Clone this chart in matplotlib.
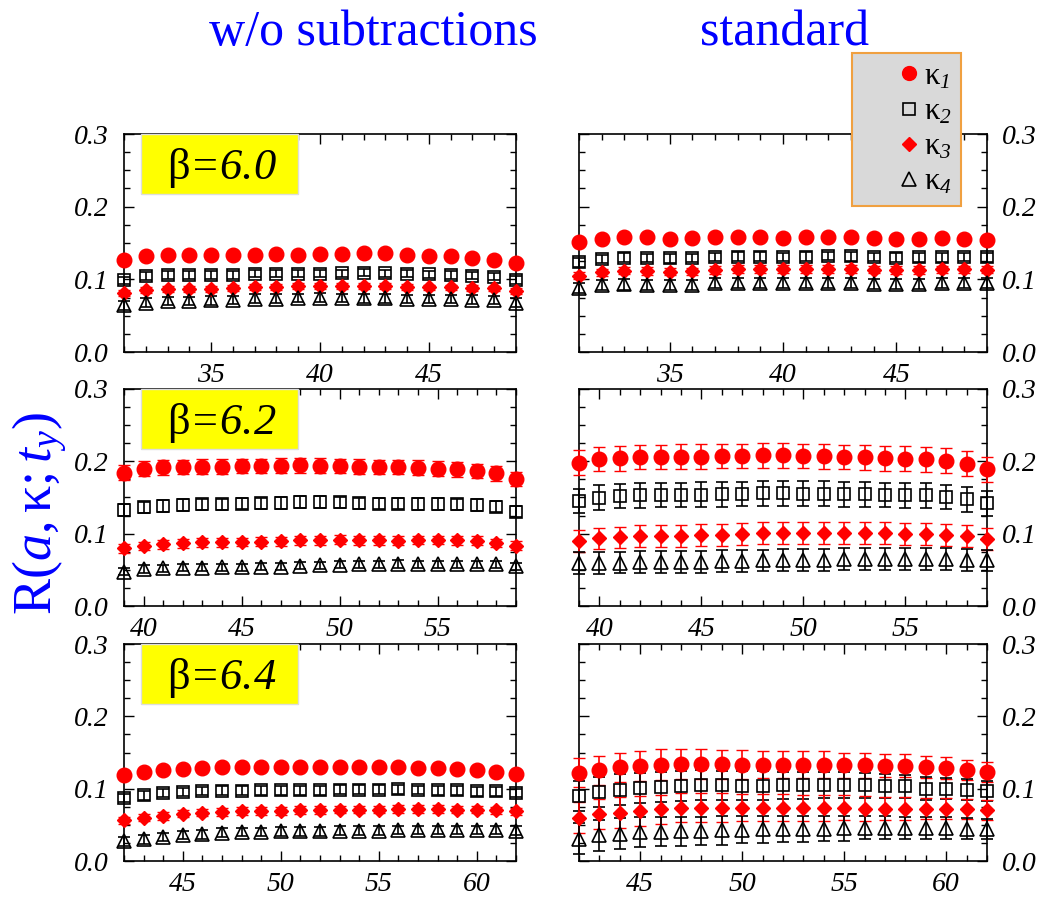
import matplotlib
matplotlib.use('Agg')
import matplotlib.pyplot as plt
from matplotlib.ticker import MultipleLocator, FormatStrFormatter
from matplotlib.patches import Rectangle
from matplotlib.lines import Line2D

plt.rcParams['font.family'] = ['Liberation Serif', 'DejaVu Serif']
plt.rcParams['font.style'] = 'italic'
plt.rcParams['mathtext.fontset'] = 'custom'
plt.rcParams['mathtext.rm'] = 'Liberation Serif:style=normal'
plt.rcParams['mathtext.it'] = 'Liberation Serif:style=italic'
plt.rcParams['mathtext.cal'] = 'Liberation Serif:style=italic'
plt.rcParams['mathtext.bf'] = 'Liberation Serif:style=normal:weight=bold'
plt.rcParams['mathtext.default'] = 'rm'

# ---------------- data ----------------
t_60 = [31, 32, 33, 34, 35, 36, 37, 38, 39, 40, 41, 42, 43, 44, 45, 46, 47, 48, 49]
t_62 = [39, 40, 41, 42, 43, 44, 45, 46, 47, 48, 49, 50, 51, 52, 53, 54, 55, 56, 57, 58, 59]
t_64 = [42, 43, 44, 45, 46, 47, 48, 49, 50, 51, 52, 53, 54, 55, 56, 57, 58, 59, 60, 61, 62]

# beta = 6.0, w/o subtractions
b60_nosub_k1 = [0.126, 0.132, 0.134, 0.134, 0.1335, 0.1335, 0.134, 0.135, 0.134, 0.135, 0.135, 0.136, 0.136, 0.134, 0.1325, 0.132, 0.130, 0.127, 0.122]
b60_nosub_k2 = [0.0985, 0.1045, 0.106, 0.106, 0.106, 0.106, 0.1077, 0.1077, 0.108, 0.108, 0.1085, 0.109, 0.1085, 0.1077, 0.107, 0.106, 0.105, 0.1035, 0.099]
b60_nosub_k3 = [0.0815, 0.0856, 0.087, 0.087, 0.087, 0.0879, 0.0893, 0.090, 0.0906, 0.0906, 0.091, 0.091, 0.0906, 0.0897, 0.0888, 0.0888, 0.0884, 0.0875, 0.0842]
b60_nosub_k4 = [0.064, 0.068, 0.070, 0.070, 0.071, 0.0715, 0.0735, 0.0735, 0.0745, 0.075, 0.0745, 0.074, 0.074, 0.0728, 0.0728, 0.0728, 0.0722, 0.0715, 0.068]
b60_nosub_err = [0.003, 0.005, 0.004, 0.006]

# beta = 6.0, standard
b60_std_k1 = [0.151, 0.1556, 0.1578, 0.1578, 0.156, 0.1565, 0.1578, 0.1578, 0.1578, 0.1574, 0.1578, 0.1588, 0.1588, 0.1574, 0.156, 0.1556, 0.1565, 0.1556, 0.1542]
b60_std_k2 = [0.1233, 0.128, 0.1298, 0.1293, 0.1289, 0.1293, 0.1307, 0.1312, 0.1312, 0.1307, 0.1312, 0.132, 0.1316, 0.1307, 0.1298, 0.1302, 0.1302, 0.1307, 0.1302]
b60_std_k3 = [0.1049, 0.1095, 0.1118, 0.1113, 0.1104, 0.1109, 0.1127, 0.1141, 0.1141, 0.1141, 0.1141, 0.1141, 0.1141, 0.1132, 0.1127, 0.1127, 0.1136, 0.1136, 0.1132]
b60_std_k4 = [0.0885, 0.092, 0.093, 0.092, 0.092, 0.0925, 0.0945, 0.0955, 0.0955, 0.0945, 0.0945, 0.0945, 0.0945, 0.0935, 0.0935, 0.094, 0.0955, 0.0955, 0.0955]
b60_std_err = [0.004, 0.006, 0.005, 0.007]

# beta = 6.2, w/o subtractions
b62_nosub_k1 = [0.1843, 0.1899, 0.1917, 0.1922, 0.1926, 0.1926, 0.1935, 0.1935, 0.194, 0.1945, 0.194, 0.1935, 0.1926, 0.1922, 0.1922, 0.1912, 0.1899, 0.189, 0.187, 0.1834, 0.1756]
b62_nosub_k2 = [0.1327, 0.1364, 0.1382, 0.1396, 0.1406, 0.1406, 0.1415, 0.1419, 0.1424, 0.1438, 0.1438, 0.1433, 0.1419, 0.1415, 0.1415, 0.141, 0.141, 0.1406, 0.1396, 0.1373, 0.1304]
b62_nosub_k3 = [0.0797, 0.083, 0.0853, 0.0866, 0.088, 0.088, 0.0885, 0.0889, 0.0894, 0.0908, 0.0908, 0.0917, 0.0908, 0.0908, 0.0903, 0.0912, 0.0912, 0.0908, 0.0903, 0.0871, 0.0834]
b62_nosub_k4 = [0.0475, 0.051, 0.052, 0.0532, 0.0532, 0.0537, 0.0537, 0.0542, 0.0542, 0.0556, 0.0565, 0.057, 0.0578, 0.0578, 0.0582, 0.0578, 0.0578, 0.0578, 0.0574, 0.0574, 0.0548]
b62_nosub_err = [0.010, 0.008, 0.006, 0.005]

# beta = 6.2, standard
b62_std_k1 = [0.198, 0.2032, 0.2041, 0.206, 0.206, 0.2065, 0.2065, 0.2074, 0.2074, 0.2083, 0.2083, 0.2074, 0.2069, 0.206, 0.2055, 0.2041, 0.2037, 0.2028, 0.2009, 0.1968, 0.189]
b62_std_k2 = [0.1452, 0.1498, 0.152, 0.153, 0.1535, 0.1535, 0.154, 0.1544, 0.1548, 0.1558, 0.1558, 0.1553, 0.1553, 0.1544, 0.1544, 0.1535, 0.153, 0.153, 0.1507, 0.1475, 0.1419]
b62_std_k3 = [0.0903, 0.0935, 0.0949, 0.0968, 0.0968, 0.0972, 0.0982, 0.0986, 0.0995, 0.1005, 0.1014, 0.1014, 0.1014, 0.1005, 0.1005, 0.1005, 0.0995, 0.0991, 0.0982, 0.0963, 0.0926]
b62_std_k4 = [0.059, 0.059, 0.060, 0.061, 0.061, 0.061, 0.061, 0.062, 0.062, 0.063, 0.064, 0.064, 0.064, 0.065, 0.065, 0.065, 0.065, 0.065, 0.065, 0.064, 0.063]
b62_std_err = [0.017, 0.017, 0.015, 0.015]

# beta = 6.4, w/o subtractions
b64_nosub_k1 = [0.1186, 0.1232, 0.1255, 0.1278, 0.1287, 0.1301, 0.1301, 0.1301, 0.1296, 0.1296, 0.1296, 0.1296, 0.1301, 0.1301, 0.1296, 0.1292, 0.1287, 0.1278, 0.1255, 0.1232, 0.120]
b64_nosub_k2 = [0.0872, 0.0909, 0.0941, 0.0955, 0.0969, 0.0974, 0.0974, 0.0978, 0.0978, 0.0978, 0.0978, 0.0987, 0.0987, 0.0987, 0.0992, 0.0983, 0.0978, 0.0978, 0.0964, 0.0964, 0.0941]
b64_nosub_k3 = [0.0563, 0.060, 0.0623, 0.0655, 0.0669, 0.0678, 0.0692, 0.0692, 0.0692, 0.0706, 0.0706, 0.071, 0.071, 0.071, 0.072, 0.072, 0.072, 0.071, 0.071, 0.0701, 0.0688]
b64_nosub_k4 = [0.027, 0.030, 0.033, 0.036, 0.037, 0.039, 0.040, 0.040, 0.041, 0.041, 0.041, 0.042, 0.042, 0.042, 0.043, 0.043, 0.043, 0.043, 0.043, 0.043, 0.042]
b64_nosub_err = [0.004, 0.006, 0.005, 0.006]

# beta = 6.4, standard
b64_std_k1 = [0.1218, 0.1255, 0.1297, 0.1315, 0.1334, 0.1338, 0.1338, 0.1338, 0.1334, 0.1334, 0.1334, 0.1334, 0.1334, 0.1324, 0.1324, 0.132, 0.1315, 0.1301, 0.1287, 0.1255, 0.1232]
b64_std_k2 = [0.0895, 0.0955, 0.0988, 0.101, 0.1024, 0.1038, 0.1047, 0.1047, 0.1043, 0.1043, 0.1047, 0.1047, 0.1047, 0.1047, 0.1047, 0.1038, 0.1033, 0.1001, 0.1001, 0.0988, 0.0964]
b64_std_k3 = [0.060, 0.0646, 0.0669, 0.0692, 0.0715, 0.0734, 0.0734, 0.0734, 0.0738, 0.0738, 0.0738, 0.0738, 0.0738, 0.0738, 0.0724, 0.0724, 0.0724, 0.0724, 0.0724, 0.0715, 0.0701]
b64_std_k4 = [0.031, 0.0355, 0.0378, 0.040, 0.0405, 0.041, 0.0415, 0.0424, 0.0434, 0.0438, 0.0443, 0.0443, 0.0448, 0.0452, 0.046, 0.046, 0.046, 0.0457, 0.0452, 0.0448, 0.0443]
b64_std_err_k1 = [0.020, 0.020, 0.020, 0.021, 0.021, 0.021, 0.021, 0.020, 0.020, 0.019, 0.019, 0.018, 0.018, 0.017, 0.017, 0.016, 0.016, 0.015, 0.015, 0.014, 0.014]
b64_std_err_k2 = [0.021, 0.021, 0.021, 0.021, 0.021, 0.021, 0.021, 0.020, 0.020, 0.020, 0.019, 0.019, 0.018, 0.018, 0.017, 0.017, 0.016, 0.016, 0.015, 0.015, 0.014]
b64_std_err_k3 = [0.021, 0.021, 0.021, 0.021, 0.020, 0.020, 0.020, 0.020, 0.019, 0.019, 0.019, 0.018, 0.018, 0.017, 0.017, 0.016, 0.016, 0.015, 0.015, 0.014, 0.014]
b64_std_err_k4 = [0.021, 0.021, 0.021, 0.021, 0.020, 0.020, 0.020, 0.020, 0.019, 0.019, 0.018, 0.018, 0.017, 0.017, 0.016, 0.016, 0.015, 0.015, 0.015, 0.014, 0.014]

betas = ['6.0', '6.2', '6.4']
column_titles = ['w/o subtractions', 'standard']
series_labels = [r'$\kappa_{\mathcal{1}}$', r'$\kappa_{\mathcal{2}}$',
                 r'$\kappa_{\mathcal{3}}$', r'$\kappa_{\mathcal{4}}$']
xlims = [(31, 49), (39, 59), (42, 62)]

# ---------------- styling ----------------
RED = '#ff0000'
BLUE = '#0000ff'
styles = [
    dict(marker='o', ms=10.5, mfc=RED, mec=RED, color=RED),
    dict(marker='s', ms=8.5, mfc='none', mec='black', mew=1.2, color='black'),
    dict(marker='D', ms=7.0, mfc=RED, mec=RED, color=RED),
    dict(marker='^', ms=10.5, mfc='none', mec='black', mew=1.2, color='black'),
]

W, H = 1057, 897
fig = plt.figure(figsize=(W / 100, H / 100), dpi=100)

col_x = [(124, 516), (579, 987)]
row_y = [(134, 352), (389, 606), (644, 861)]

panels = [
    (0, 0, t_60, [b60_nosub_k1, b60_nosub_k2, b60_nosub_k3, b60_nosub_k4], b60_nosub_err),
    (0, 1, t_60, [b60_std_k1, b60_std_k2, b60_std_k3, b60_std_k4], b60_std_err),
    (1, 0, t_62, [b62_nosub_k1, b62_nosub_k2, b62_nosub_k3, b62_nosub_k4], b62_nosub_err),
    (1, 1, t_62, [b62_std_k1, b62_std_k2, b62_std_k3, b62_std_k4], b62_std_err),
    (2, 0, t_64, [b64_nosub_k1, b64_nosub_k2, b64_nosub_k3, b64_nosub_k4], b64_nosub_err),
    (2, 1, t_64, [b64_std_k1, b64_std_k2, b64_std_k3, b64_std_k4],
     [b64_std_err_k1, b64_std_err_k2, b64_std_err_k3, b64_std_err_k4]),
]

for row, col, t, series, errs in panels:
    x0, x1 = col_x[col]
    y0, y1 = row_y[row]
    ax = fig.add_axes([x0 / W, 1 - y1 / H, (x1 - x0) / W, (y1 - y0) / H])
    for vals, err, st in zip(series, errs, styles):
        cont = ax.errorbar(t, vals, yerr=err, linestyle='none', elinewidth=1.2,
                           capsize=4, capthick=1.2, ecolor=st['color'],
                           marker=st['marker'], ms=st['ms'], mfc=st['mfc'],
                           mec=st['mec'], mew=st.get('mew', 1.0), zorder=3)
        for ch in cont.get_children():
            ch.set_clip_on(False)
    ax.set_xlim(*xlims[row])
    ax.set_ylim(0.0, 0.3)
    ax.xaxis.set_major_locator(MultipleLocator(5))
    ax.xaxis.set_minor_locator(MultipleLocator(1))
    ax.yaxis.set_major_locator(MultipleLocator(0.1))
    ax.yaxis.set_minor_locator(MultipleLocator(0.025))
    ax.yaxis.set_major_formatter(FormatStrFormatter('%.1f'))
    ax.tick_params(which='both', direction='in', top=True, right=True, left=True,
                   bottom=True, width=1.0, labelsize=20, colors='black')
    ax.tick_params(which='major', length=7)
    ax.tick_params(which='minor', length=4)
    ax.tick_params(axis='x', pad=8)
    ax.tick_params(axis='y', pad=11)
    if col == 1:
        ax.tick_params(axis='y', labelleft=False, labelright=True)
    for sp in ax.spines.values():
        sp.set_linewidth(1.2)
    if col == 0:
        ax.add_patch(Rectangle((0.043, 0.725), 0.40, 0.275, transform=ax.transAxes,
                               facecolor='#ffff00', edgecolor='#dddddd', lw=1,
                               zorder=5, clip_on=False))
        ax.text(0.249, 0.794, r'$\beta$=' + betas[row], transform=ax.transAxes,
                ha='center', va='baseline', fontsize=32, fontstyle='italic',
                color='black', zorder=6)

# column titles
fig.text(373 / W, 1 - 45 / H, column_titles[0], ha='center', va='baseline',
         fontsize=36, color=BLUE, fontstyle='normal')
fig.text(785 / W, 1 - 45 / H, column_titles[1], ha='center', va='baseline',
         fontsize=36, color=BLUE, fontstyle='normal')

# y label
fig.text(40 / W, 1 - 513 / H, r'$R(\mathit{a},\kappa;\mathit{t}_{\mathit{y}})$',
         rotation=90, ha='center', va='center', fontsize=39, color=BLUE)

# legend
handles = [Line2D([], [], linestyle='none', marker=st['marker'], ms=st['ms'] * 0.95,
                  mfc=st['mfc'], mec=st['mec'], mew=st.get('mew', 1.0)) for st in styles]
leg = fig.legend(handles, series_labels, loc='upper left',
                 bbox_to_anchor=(852 / W, 1 - 53 / H), bbox_transform=fig.transFigure,
                 frameon=True, fancybox=False, fontsize=22, borderpad=0.3,
                 handlelength=3.1, handletextpad=-1.05, labelspacing=0.2,
                 borderaxespad=0)
frame = leg.get_frame()
frame.set_facecolor('#d9d9d9')
frame.set_edgecolor('#f0a040')
frame.set_linewidth(1.5)
frame.set_alpha(1.0)

fig.savefig('out.png', dpi=100)
